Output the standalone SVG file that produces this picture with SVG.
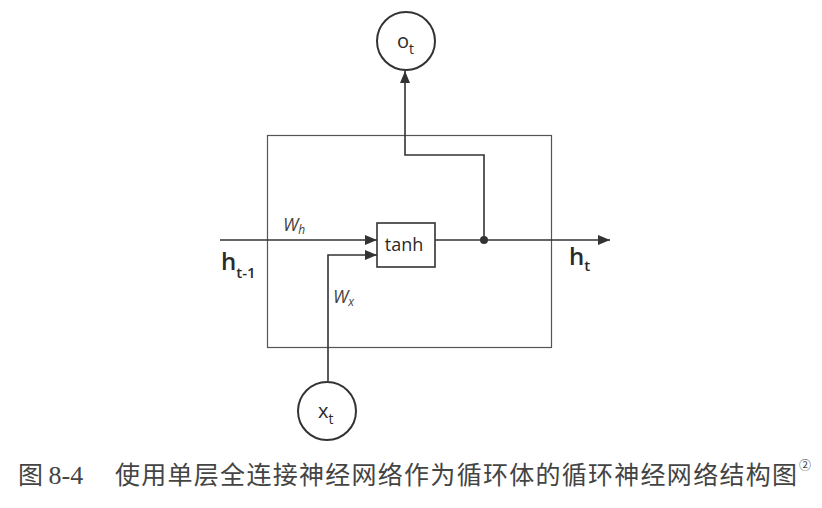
<svg xmlns="http://www.w3.org/2000/svg" width="822" height="508" viewBox="0 0 822 508">
<style>
.ln{fill:none;stroke:#333;stroke-width:1.6}
.box{fill:none;stroke:#555;stroke-width:1.2}
.nd{fill:#fff;stroke:#333;stroke-width:2}
.lbl{font-family:"Open Sans","Liberation Sans",sans-serif;fill:#2a2a2a}
.w{font-family:"Open Sans","Liberation Sans",sans-serif;font-style:italic;fill:#444}
.cap{font-family:"Noto Sans CJK SC",sans-serif;fill:#444}
</style>
<defs>
<marker id="ar" viewBox="0 0 12 10" refX="12" refY="5" markerWidth="12" markerHeight="10" markerUnits="userSpaceOnUse" orient="auto">
<path d="M0,0 L12,5 L0,10 Z" fill="#333"/>
</marker>
</defs>
<rect width="822" height="508" fill="#fff"/>
<g id="cell">
<rect x="267.5" y="135.5" width="284" height="212" class="box"/>
</g>
<g id="connectors">
<path class="ln" d="M220,240 L377,240" marker-end="url(#ar)"/>
<path class="ln" d="M328,381 L328,255 L377,255" marker-end="url(#ar)"/>
<path class="ln" d="M435,240 L610,240" marker-end="url(#ar)"/>
<path class="ln" d="M484,240 L484,155 L405,155 L405,71" marker-end="url(#ar)"/>
<circle cx="484" cy="240" r="4" fill="#333"/>
</g>
<g id="tanh">
<rect x="377" y="223" width="58" height="44" fill="#fff" stroke="#333" stroke-width="1.6"/>
<text x="404" y="251" class="lbl" font-size="18" text-anchor="middle">tanh</text>
</g>
<g id="o_t">
<circle cx="406" cy="41" r="29" class="nd"/>
<text x="397" y="48" class="lbl" font-size="20">o<tspan font-size="14" dy="6">t</tspan></text>
</g>
<g id="x_t">
<circle cx="327" cy="411" r="29" class="nd"/>
<text x="318" y="418" class="lbl" font-size="20">x<tspan font-size="14" dy="6">t</tspan></text>
</g>
<g id="labels">
<text x="283" y="231" class="w" font-size="18">W<tspan font-size="12" dy="3">h</tspan></text>
<text x="333" y="303" class="w" font-size="18">W<tspan font-size="12" dy="3">x</tspan></text>
<text x="221" y="270" class="lbl" font-size="24" font-weight="600">h<tspan font-size="15" dy="8">t-1</tspan></text>
<text x="569" y="265" class="lbl" font-size="24" font-weight="600">h<tspan font-size="15" dy="6">t</tspan></text>
</g>
<g id="caption">
<text x="18" y="484" class="cap" style="font-size:25px">图 <tspan font-family="'Liberation Serif',serif" style="font-size:26px">8-4</tspan></text>
<text x="115" y="484" class="cap" style="font-size:25px" textLength="682" lengthAdjust="spacing">使用单层全连接神经网络作为循环体的循环神经网络结构图</text>
<text x="799" y="470" class="cap" style="font-size:12px">②</text>
</g>
</svg>
